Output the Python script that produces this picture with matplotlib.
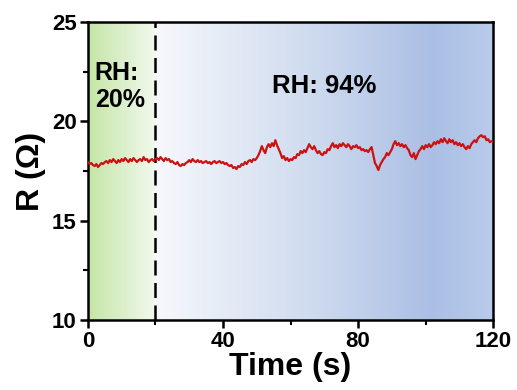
import matplotlib.pyplot as plt
import numpy as np
from matplotlib.colors import LinearSegmentedColormap

plt.rcParams['font.family'] = 'Liberation Sans'
plt.rcParams['font.weight'] = 'bold'

# resistance trace, sampled every 0.5 s from 0 to 120 s
r = [17.95, 17.85, 17.9, 17.8, 17.75, 17.85, 17.7, 17.8, 17.9, 17.85,
     17.95, 18.0, 17.9, 18.05, 17.95, 18.1, 18.0, 17.9, 18.05, 17.95,
     18.1, 18.0, 18.15, 18.05, 17.95, 18.1, 18.0, 18.15, 18.05, 17.95,
     18.05, 18.1, 18.0, 18.2, 18.05, 18.1, 17.95, 18.05, 18.1, 18.0,
     18.1, 18.15, 18.05, 18.2, 18.1, 18.0, 18.15, 18.05, 18.1, 17.95,
     18.0, 17.9, 17.85, 17.95, 17.8, 17.75, 17.85, 17.8, 17.9, 17.95,
     18.05, 17.95, 18.1, 18.0, 17.95, 18.05, 17.95, 18.0, 17.9, 17.95,
     18.0, 17.9, 17.95, 17.85, 17.95, 18.0, 17.9, 17.95, 18.0, 17.9,
     17.95, 17.85, 17.9, 17.8, 17.75, 17.8, 17.65, 17.7, 17.6, 17.75,
     17.7, 17.85, 17.8, 17.95, 17.85, 18.0, 18.05, 17.95, 18.1, 18.05,
     18.15, 18.3, 18.5, 18.75, 18.55, 18.4, 18.7, 18.85, 18.7, 18.9,
     18.75, 19.05, 18.8, 18.6, 18.4, 18.15, 18.25, 18.05, 18.15, 18.0,
     18.1, 18.05, 18.2, 18.15, 18.35, 18.3, 18.5, 18.4, 18.55, 18.45,
     18.65, 18.85, 18.7, 18.6, 18.75, 18.55, 18.4, 18.5, 18.35, 18.3,
     18.45, 18.4, 18.6, 18.55, 18.75, 18.9, 18.7, 18.8, 18.65, 18.85,
     18.75, 18.9, 18.8, 18.7, 18.85, 18.75, 18.6, 18.75, 18.7, 18.8,
     18.65, 18.7, 18.55, 18.6, 18.5, 18.55, 18.45, 18.6, 18.7, 18.3,
     17.9, 17.75, 17.55, 17.8, 17.95, 18.1, 18.2, 18.4, 18.3, 18.45,
     18.6, 18.85, 19.0, 18.8, 18.9, 18.75, 18.85, 18.7, 18.8, 18.65,
     18.55, 18.3, 18.2, 18.4, 18.1, 18.3, 18.5, 18.6, 18.75, 18.6,
     18.8, 18.7, 18.85, 18.7, 18.8, 18.95, 18.85, 19.0, 18.9, 19.1,
     18.95, 19.15, 19.0, 18.9, 19.1, 18.95, 19.05, 18.85, 18.95, 18.8,
     18.9, 18.75, 18.85, 18.7, 18.6, 18.75, 18.65, 18.85, 18.95, 19.05,
     18.95, 19.15, 19.25, 19.3, 19.2, 19.25, 19.05, 19.1, 18.95, 19.0,
     18.95]
t = np.linspace(0, 120, len(r))

t_switch = 20
green = ['#c4e5a6', '#f2f9ef']
blue = ['#f6f8fc', '#d0dcef', '#abbfe5', '#b9cbea']

fig = plt.figure(figsize=(5.17, 3.9), dpi=100)
ax = fig.add_axes([0.170, 0.179, 0.784, 0.765])

grad = np.linspace(0, 1, 256).reshape(1, -1)
ax.imshow(grad, extent=[0, t_switch, 10, 25], aspect='auto', zorder=0,
          cmap=LinearSegmentedColormap.from_list('g', green))
ax.imshow(grad, extent=[t_switch, 120, 10, 25], aspect='auto', zorder=0,
          cmap=LinearSegmentedColormap.from_list('b', [(0, blue[0]), (0.45, blue[1]), (0.82, blue[2]), (1, blue[3])]))

ax.axvline(t_switch, color='black', lw=1.8, ls=(0, (6, 3)), zorder=2)
ax.plot(t, r, color='#cc1111', lw=1.6, zorder=3)

ax.text(2.0, 21.75, 'RH:\n20%', fontsize=18, fontweight='bold', va='center', ha='left', linespacing=1.15)
ax.text(70, 21.75, 'RH: 94%', fontsize=18.5, fontweight='bold', va='center', ha='center')

ax.set_xlim(0, 120)
ax.set_ylim(10, 25)
ax.set_xticks([0, 40, 80, 120])
ax.set_xticks([20, 60, 100], minor=True)
ax.set_yticks([10, 15, 20, 25])
ax.set_yticks([12.5, 17.5, 22.5], minor=True)
ax.tick_params(which='major', direction='out', length=6, width=1.8, labelsize=16, pad=2)
ax.tick_params(which='minor', direction='out', length=3.5, width=1.5)
for lab in ax.get_xticklabels() + ax.get_yticklabels():
    lab.set_fontweight('bold')
for s in ax.spines.values():
    s.set_linewidth(1.8)

ax.set_xlabel('Time (s)', fontsize=23, fontweight='bold', labelpad=0)
ax.set_ylabel('R (Ω)', fontsize=23, fontweight='bold', labelpad=4)

fig.savefig('out.png', dpi=100)
